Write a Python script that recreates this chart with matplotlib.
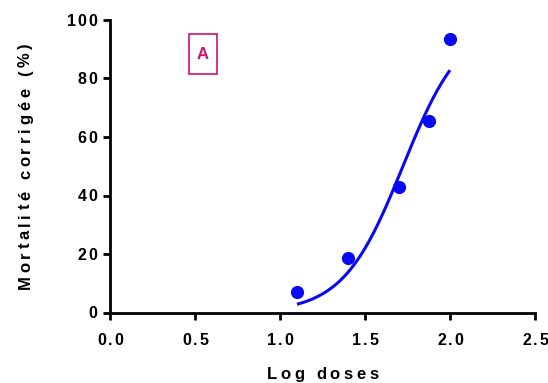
import numpy as np
import matplotlib.pyplot as plt
from matplotlib.patches import Rectangle
from matplotlib.font_manager import FontProperties, findfont, get_font
from matplotlib.transforms import ScaledTranslation

# observed points
log_dose = [1.1, 1.4, 1.7, 1.875, 2.0]
mortality = [7.0, 18.6, 42.9, 65.4, 93.5]

# fitted sigmoid
log_ec50 = 1.723
hill = 2.47
fit_range = [1.1, 2.0]

xticks = [0.0, 0.5, 1.0, 1.5, 2.0, 2.5]
yticks = [0, 20, 40, 60, 80, 100]

blue = '#0a0af0'
pink = '#d4106a'
FAM = 'Liberation Sans'

fp = FontProperties(family=FAM, weight='bold')
font = get_font(findfont(fp))

fig = plt.figure(figsize=(5.48, 3.83), dpi=100)
ax = fig.add_axes([110 / 548, 1 - 312.5 / 383, 425 / 548, 292.5 / 383])


def advances(s, size):
    font.set_size(size, 72)
    return [font.load_char(ord(c)).linearHoriAdvance / 65536 for c in s]


# letter-spaced text, drawn glyph by glyph (offsets in points)
def spaced_text(x, y, s, size, track, transform, align='center', dx=0, dy=0,
                rotation=0, color='black'):
    adv = advances(s, size)
    total = sum(adv) + track * (len(s) - 1)
    pos = {'left': 0, 'center': -total / 2, 'right': -total}[align]
    for c, a in zip(s, adv):
        if rotation == 90:
            ox, oy = dx, dy + pos
        else:
            ox, oy = dx + pos, dy
        t = transform + ScaledTranslation(ox / 72, oy / 72, fig.dpi_scale_trans)
        ax.text(x, y, c, transform=t, fontsize=size, fontweight='bold', family=FAM,
                color=color, ha='left', va='baseline', rotation=rotation,
                rotation_mode='anchor', clip_on=False)
        pos += a + track


xc = np.linspace(fit_range[0], fit_range[1], 200)
yc = 100 / (1 + 10 ** ((log_ec50 - xc) * hill))
ax.plot(xc, yc, color=blue, lw=2.2, solid_capstyle='butt')
ax.plot(log_dose, mortality, 'o', color=blue, ms=9.5, mec='none', clip_on=False)

ax.set_xlim(0, 2.5)
ax.set_ylim(0, 100)
ax.set_xticks(xticks)
ax.set_yticks(yticks)
for s in ['top', 'right']:
    ax.spines[s].set_visible(False)
for s in ['left', 'bottom']:
    ax.spines[s].set_linewidth(2)
ax.tick_params(width=2, length=5, labelbottom=False, labelleft=False)

for t in xticks:
    spaced_text(t, 0, '%.1f' % t, 11.5, 1.3, ax.get_xaxis_transform(), 'center', dy=-23.4)
for v in yticks:
    spaced_text(0, v, str(v), 11.5, 1.3, ax.get_yaxis_transform(), 'right', dx=-9.4, dy=-4.1)

spaced_text(0.5, 0, 'Log doses', 12, 2.6, ax.transAxes, 'center', dy=-47.9)
spaced_text(0, 0.5, 'Mortalité corrigée (%)', 12, 2.6, ax.transAxes, 'center',
            dx=-57.6, rotation=90)

ax.add_patch(Rectangle((0.186, 0.815), 0.066, 0.137, transform=ax.transAxes,
                       fill=False, ec=pink, lw=1.2, clip_on=False))
ax.text(0.219, 0.8835, 'A', transform=ax.transAxes, color=pink, fontsize=12,
        fontweight='bold', family=FAM, ha='center', va='center')

plt.savefig('out.png', dpi=100)
